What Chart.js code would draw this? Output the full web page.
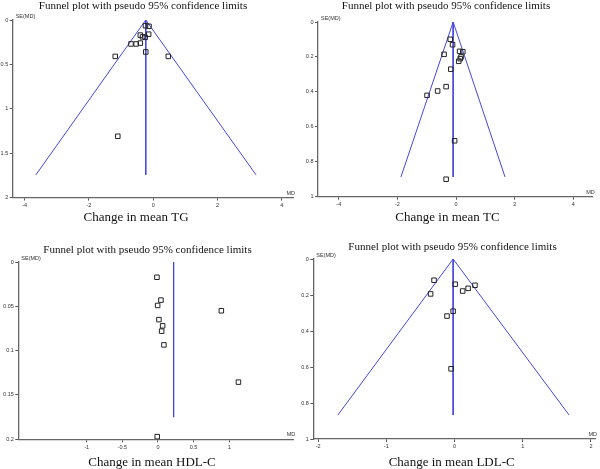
<!DOCTYPE html>
<html lang="en">
<head>
<meta charset="UTF-8">
<title>Funnel plots</title>
<script src="https://cdn.jsdelivr.net/npm/chart.js@4.4.1/dist/chart.umd.min.js"></script>
<style>
  body { margin: 0; background: #fff; }
  #wrap { position: relative; width: 600px; height: 469px; }
  #wrap canvas { position: absolute; }
</style>
</head>
<body>
<div id="wrap">
  <canvas id="tg" width="300" height="235" style="left:0;top:0"></canvas>
  <canvas id="tc" width="300" height="235" style="left:300px;top:0"></canvas>
  <canvas id="hdl" width="300" height="234" style="left:0;top:235px"></canvas>
  <canvas id="ldl" width="300" height="234" style="left:300px;top:235px"></canvas>
</div>
<script>
// ---- data (MD = mean difference, SE = standard error) ----
const tgMD = [-0.24, -0.13, -0.14, -0.40, -0.33, -0.25, -0.69, -0.53, -0.40, -0.23, -1.18, 0.47, -1.10];
const tgSE = [0.064, 0.071, 0.16, 0.17, 0.19, 0.195, 0.27, 0.27, 0.26, 0.36, 0.41, 0.41, 1.31];
const tgFunnelX = [-3.65, -0.23, 3.2];
const tgFunnelY = [1.745, 0, 1.745];
const tgPooledX = [-0.23, -0.23];
const tgPooledY = [0, 1.745];
const tgXTicks = [-4, -2, 0, 2, 4];
const tgYTicks = [0, 0.5, 1, 1.5, 2];

const tcMD = [-0.20, -0.12, 0.12, 0.23, -0.41, 0.17, 0.14, 0.09, -0.18, -0.34, -0.63, -0.99, -0.05, -0.34];
const tcSE = [0.099, 0.13, 0.168, 0.17, 0.185, 0.20, 0.21, 0.225, 0.27, 0.37, 0.395, 0.42, 0.68, 0.90];
const tcFunnelX = [-1.88, -0.10, 1.67];
const tcFunnelY = [0.887, 0, 0.887];
const tcPooledX = [-0.10, -0.10];
const tcPooledY = [0, 0.887];
const tcXTicks = [-4, -2, 0, 2, 4];
const tcYTicks = [0, 0.2, 0.4, 0.6, 0.8, 1];

const hdlMD = [-0.014, 0.042, -0.004, 0.89, 0.014, 0.066, 0.052, 0.084, 1.13, -0.01];
const hdlSE = [0.0172, 0.043, 0.049, 0.055, 0.065, 0.072, 0.078, 0.0935, 0.1355, 0.197];
const hdlFunnelX = [];
const hdlFunnelY = [];
const hdlPooledX = [0.22, 0.22];
const hdlPooledY = [0, 0.175];
const hdlXTicks = [-1, -0.5, 0, 0.5, 1];
const hdlYTicks = [0, 0.05, 0.1, 0.15, 0.2];

const ldlMD = [-0.30, 0.01, 0.30, 0.20, 0.12, -0.35, -0.02, -0.11, -0.05];
const ldlSE = [0.118, 0.14, 0.146, 0.163, 0.178, 0.194, 0.29, 0.317, 0.61];
const ldlFunnelX = [-1.71, -0.02, 1.68];
const ldlFunnelY = [0.867, 0, 0.867];
const ldlPooledX = [-0.02, -0.02];
const ldlPooledY = [0, 0.867];
const ldlXTicks = [-2, -1, 0, 1, 2];
const ldlYTicks = [0, 0.2, 0.4, 0.6, 0.8, 1];

const titleText = "Funnel plot with pseudo 95% confidence limits";

// draws the titles and axis captions at fixed spots
const panelText = {
  id: "panelText",
  afterDraw(chart, args, o) {
    const ctx = chart.ctx, a = chart.chartArea;
    ctx.save();
    ctx.fillStyle = "#111";
    ctx.textAlign = "center";
    ctx.textBaseline = "middle";
    ctx.font = "11px 'Liberation Serif'";
    ctx.fillText(titleText, o.titleX, o.titleY);
    ctx.font = "13px 'Liberation Serif'";
    ctx.fillText(o.xlabel, o.labelX, o.labelY);
    ctx.fillStyle = "#333";
    ctx.font = "5.5px 'Liberation Sans'";
    ctx.textAlign = "left";
    ctx.fillText("SE(MD)", a.left + 3, a.top - 3.5);
    ctx.textAlign = "right";
    ctx.fillText("MD", a.right + 2, a.bottom - 4.5);
    ctx.restore();
  }
};

function pts(xs, ys) {
  return xs.map((x, i) => ({ x: x, y: ys[i] }));
}

function funnel(id, md, se, fx, fy, px, py, xTicks, yTicks, box, text) {
  const lineStyle = { showLine: true, pointRadius: 0, borderColor: "#4646e0", borderWidth: 1, tension: 0, fill: false };
  const datasets = [
    { label: "studies", data: pts(md, se), pointStyle: "rect", pointRadius: 3.2,
      borderColor: "#222", borderWidth: 1, backgroundColor: "rgba(0,0,0,0)" },
    Object.assign({ label: "pooled", data: pts(px, py) }, lineStyle)
  ];
  if (fx.length) datasets.push(Object.assign({ label: "limits", data: pts(fx, fy) }, lineStyle));

  const axis = (ticks, fit) => ({
    type: "linear",
    afterBuildTicks: s => { s.ticks = ticks.map(v => ({ value: v })); },
    afterFit: fit,
    ticks: { font: { size: 5.5, family: "Liberation Sans" }, color: "#333", padding: 1.5,
             autoSkip: false, maxRotation: 0, callback: v => String(v) },
    grid: { drawOnChartArea: false, drawTicks: true, tickLength: 3, color: "#555" },
    border: { color: "#666", width: 1.3 }
  });

  new Chart(document.getElementById(id), {
    type: "scatter",
    data: { datasets: datasets },
    options: {
      responsive: false,
      animation: false,
      devicePixelRatio: 1,
      layout: { padding: box.pad },
      scales: {
        x: Object.assign(axis(xTicks, s => { s.height = 12; }), { min: box.xMin, max: box.xMax }),
        y: Object.assign(axis(yTicks, s => { s.width = box.yWidth; }), { min: 0, max: box.yMax, reverse: true })
      },
      plugins: { legend: { display: false }, tooltip: { enabled: false }, panelText: text }
    },
    plugins: [panelText]
  });
}

funnel("tg", tgMD, tgSE, tgFunnelX, tgFunnelY, tgPooledX, tgPooledY, tgXTicks, tgYTicks,
  { xMin: -4.37, xMax: 4.35, yMax: 2, yWidth: 12.7, pad: { left: 0, top: 20, right: 7, bottom: 25.5 } },
  { titleX: 143, titleY: 6.5, xlabel: "Change in mean TG", labelX: 136, labelY: 218 });

funnel("tc", tcMD, tcSE, tcFunnelX, tcFunnelY, tcPooledX, tcPooledY, tcXTicks, tcYTicks,
  { xMin: -4.71, xMax: 4.66, yMax: 1, yWidth: 18, pad: { left: 0, top: 22, right: 7.3, bottom: 26.3 } },
  { titleX: 146, titleY: 6.5, xlabel: "Change in mean TC", labelX: 147.5, labelY: 218 });

funnel("hdl", hdlMD, hdlSE, hdlFunnelX, hdlFunnelY, hdlPooledX, hdlPooledY, hdlXTicks, hdlYTicks,
  { xMin: -1.96, xMax: 1.90, yMax: 0.2, yWidth: 18.3, pad: { left: 0, top: 27, right: 6.7, bottom: 17.7 } },
  { titleX: 147.5, titleY: 15, xlabel: "Change in mean HDL-C", labelX: 152, labelY: 227.7 });

funnel("ldl", ldlMD, ldlSE, ldlFunnelX, ldlFunnelY, ldlPooledX, ldlPooledY, ldlXTicks, ldlYTicks,
  { xMin: -2.07, xMax: 2.06, yMax: 1, yWidth: 13.3, pad: { left: 0, top: 24, right: 3, bottom: 18 } },
  { titleX: 152.5, titleY: 11.7, xlabel: "Change in mean LDL-C", labelX: 151.7, labelY: 227.3 });
</script>
</body>
</html>
